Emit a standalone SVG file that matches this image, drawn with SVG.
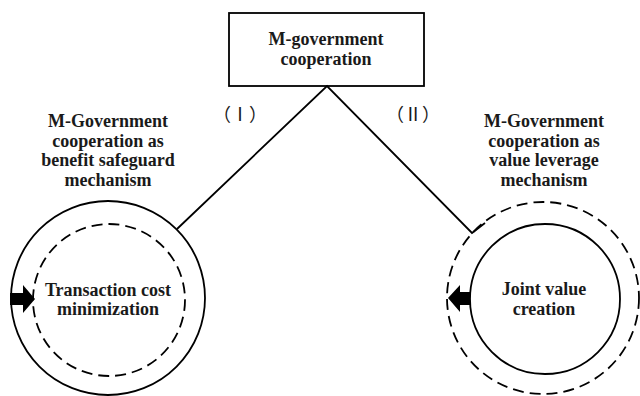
<svg xmlns="http://www.w3.org/2000/svg" width="640" height="396" viewBox="0 0 640 396">
<style>
.t{font-family:"Liberation Serif",serif;font-weight:bold;font-size:18px;fill:#1a1a1a;text-anchor:middle}
.r{font-family:"Liberation Serif","Noto Sans CJK SC",serif;font-size:18px;fill:#1a1a1a;text-anchor:middle}
.s{fill:none;stroke:#000;stroke-width:1.8}
.d{fill:none;stroke:#000;stroke-width:1.8;stroke-dasharray:11 6}
.a{fill:#000;stroke:none}
</style>
<rect width="640" height="396" fill="#fff"/>
<g id="connectors">
<polyline class="s" points="177,229 327,86 472,233 485,223"/>
</g>
<g id="top">
<rect class="s" x="229" y="13" width="195" height="73"/>
<text class="t" x="326" y="45">M-government</text>
<text class="t" x="326" y="65">cooperation</text>
</g>
<g id="label1"><text class="r" x="240" y="121">（Ⅰ）</text></g>
<g id="label2"><text class="r" x="413" y="121">（Ⅱ）</text></g>
<g id="leftLabel">
<text class="t" x="108" y="127">M-Government</text>
<text class="t" x="108" y="147">cooperation as</text>
<text class="t" x="108" y="166">benefit safeguard</text>
<text class="t" x="108" y="186">mechanism</text>
</g>
<g id="rightLabel">
<text class="t" x="544" y="127">M-Government</text>
<text class="t" x="544" y="147">cooperation as</text>
<text class="t" x="544" y="166">value leverage</text>
<text class="t" x="544" y="186">mechanism</text>
</g>
<g id="leftNode">
<circle class="s" cx="108" cy="298" r="97"/>
<circle class="d" cx="109" cy="300" r="76"/>
<polygon class="a" points="10,293 23,293 23,285 35,299 23,313 23,305 10,305"/>
<text class="t" x="108" y="296">Transaction cost</text>
<text class="t" x="108" y="315">minimization</text>
</g>
<g id="rightNode">
<circle class="d" cx="543" cy="298" r="96"/>
<circle class="s" cx="545" cy="299" r="75"/>
<polygon class="a" points="470,292 460,292 460,285 448,298 460,312 460,305 470,305"/>
<text class="t" x="544" y="295">Joint value</text>
<text class="t" x="544" y="315">creation</text>
</g>
</svg>
